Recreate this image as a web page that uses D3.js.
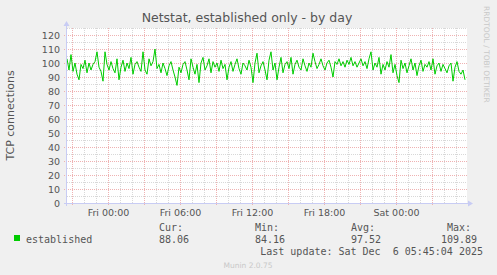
<!DOCTYPE html>
<html>
<head>
<meta charset="utf-8">
<script src="https://cdn.jsdelivr.net/npm/d3@7"></script>
<style>
    body { margin: 0; background: #f0f0f0; }
    .tick text { font-family: "DejaVu Sans", sans-serif; font-size: 9.5px; fill: #555; }
    .mono { font-family: "DejaVu Sans Mono", monospace; font-size: 10px; fill: #555; }
</style>
</head>
<body>
<div id="chart"></div>
<script>
    // 10 minute samples starting Thu Dec 4 20:35
    const established = [
        103, 95, 106, 94, 100, 92, 88, 99, 96, 102,
        93, 100, 95, 99, 101, 108, 97, 94, 87, 108,
        99, 95, 101, 96, 93, 103, 88, 97, 102, 94,
        100, 96, 104, 92, 99, 101, 97, 94, 108, 95,
        92, 103, 98, 101, 110, 96, 99, 93, 100, 96,
        91, 98, 101, 95, 90, 84, 97, 93, 99, 101,
        95, 88, 103, 97, 92, 99, 86, 100, 104, 95,
        98, 103, 93, 101, 97, 100, 94, 102, 96, 99,
        88, 97, 101, 94, 99, 103, 96, 92, 100, 98,
        95, 102, 97, 86, 100, 107, 93, 98, 101, 95,
        88, 102, 108, 95, 100, 88, 97, 104, 93, 99,
        101, 96, 104, 92, 99, 102, 97, 95, 103, 98,
        94, 100, 97, 107, 101, 96, 99, 103, 98, 95,
        100, 102, 97, 90, 101, 99, 103, 98, 101, 97,
        102, 99, 104, 98, 101, 97, 100, 103, 98, 101,
        96, 103, 108, 95, 100, 97, 104, 92, 99, 95,
        101, 97, 106, 93, 99, 91, 86, 102, 96, 100,
        93, 98, 103, 95, 100, 91, 98, 102, 94, 99,
        97, 101, 95, 103, 92, 98, 100, 94, 99, 96,
        93, 98, 100, 87, 97, 101, 94, 92, 95, 88
    ];
    const yTicks = [0, 10, 20, 30, 40, 50, 60, 70, 80, 90, 100, 110, 120];
    const statNames = ["Cur:", "Min:", "Avg:", "Max:"];
    const statValues = ["88.06", "84.16", "97.52", "109.89"];

    const W = 497, H = 275;
    let margin = {top: 28, left: 67},
        width = 400,
        height = 175;

    const start = new Date(2025, 11, 4, 20, 35),
        end = new Date(2025, 11, 6, 5, 55);
    const data = established.map((v, i) => ({t: d3.timeMinute.offset(start, i * 10), v: v}));

    let svg = d3.select("#chart")
        .append("svg")
        .attr("width", W)
        .attr("height", H)
        .style("display", "block");

    svg.append("rect").attr("width", W).attr("height", H).attr("fill", "#f0f0f0");

    let g = svg.append("g")
        .attr("transform", `translate(${margin.left}, ${margin.top})`);

    let x = d3.scaleTime().domain([start, end]).range([0, width]);
    let y = d3.scaleLinear().domain([0, 125]).range([height, 0]);

    g.append("rect").attr("width", width).attr("height", height).attr("fill", "#fff");

    // minor grid
    g.selectAll(".vmin")
        .data(x.ticks(d3.timeHour.every(1)))
        .join("line")
        .attr("x1", d => Math.round(x(d)) + 0.5).attr("x2", d => Math.round(x(d)) + 0.5)
        .attr("y1", 0).attr("y2", height)
        .attr("stroke", "#d8d8d8").attr("stroke-dasharray", "1,1");

    g.selectAll(".hmin")
        .data(d3.range(5, 126, 10))
        .join("line")
        .attr("x1", 0).attr("x2", width)
        .attr("y1", d => Math.round(y(d)) + 0.5).attr("y2", d => Math.round(y(d)) + 0.5)
        .attr("stroke", "#d8d8d8").attr("stroke-dasharray", "1,1");

    // major grid
    g.selectAll(".vmaj")
        .data(x.ticks(d3.timeHour.every(3)))
        .join("line")
        .attr("x1", d => Math.round(x(d)) + 0.5).attr("x2", d => Math.round(x(d)) + 0.5)
        .attr("y1", 0).attr("y2", height + 3)
        .attr("stroke", "#efb2b2").attr("stroke-dasharray", "1,1");

    g.selectAll(".hmaj")
        .data(yTicks.slice(1))
        .join("line")
        .attr("x1", -3).attr("x2", width)
        .attr("y1", d => Math.round(y(d)) + 0.5).attr("y2", d => Math.round(y(d)) + 0.5)
        .attr("stroke", "#efb2b2").attr("stroke-dasharray", "1,1");

    // axes
    g.append("g")
        .attr("transform", `translate(0, ${height})`)
        .call(d3.axisBottom(x).ticks(d3.timeHour.every(6)).tickSize(0).tickPadding(6)
            .tickFormat(d3.timeFormat("%a %H:%M")))
        .call(a => a.select(".domain").remove());

    g.append("g")
        .call(d3.axisLeft(y).tickValues(yTicks).tickSize(0).tickPadding(7))
        .call(a => a.select(".domain").remove());

    // the line
    g.append("path")
        .datum(data)
        .attr("fill", "none")
        .attr("stroke", "#00cc00")
        .attr("stroke-width", 1)
        .attr("d", d3.line().x(d => x(d.t)).y(d => y(d.v)));

    // axis lines with arrows
    g.append("line").attr("x1", -0.5).attr("x2", -0.5).attr("y1", height + 3).attr("y2", -4)
        .attr("stroke", "#c8ccf4");
    g.append("path").attr("d", `M-3.5,-2 L2.5,-2 L-0.5,-7 Z`).attr("fill", "#c8ccf4");
    g.append("line").attr("x1", -3).attr("x2", width + 3).attr("y1", height + 0.5).attr("y2", height + 0.5)
        .attr("stroke", "#c8ccf4");
    g.append("path").attr("d", `M${width + 1},${height - 2.5} L${width + 1},${height + 3.5} L${width + 6},${height + 0.5} Z`)
        .attr("fill", "#c8ccf4");

    // title and labels
    svg.append("text")
        .attr("x", 247).attr("y", 22)
        .attr("text-anchor", "middle")
        .style("font-family", "DejaVu Sans, sans-serif").style("font-size", "12.5px")
        .attr("fill", "#555")
        .text("Netstat, established only - by day");

    svg.append("text")
        .attr("transform", `translate(14, ${margin.top + height / 2}) rotate(-90)`)
        .attr("text-anchor", "middle")
        .style("font-family", "DejaVu Sans, sans-serif").style("font-size", "11px")
        .attr("fill", "#555")
        .text("TCP connections");

    svg.append("text")
        .attr("transform", `translate(484, 6) rotate(90)`)
        .style("font-family", "DejaVu Sans, sans-serif").style("font-size", "7.5px")
        .attr("fill", "#c8c8c8")
        .text("RRDTOOL / TOBI OETIKER");

    // legend
    svg.append("rect").attr("x", 14).attr("y", 235).attr("width", 6).attr("height", 6)
        .attr("fill", "#00cc00");
    svg.append("text").attr("class", "mono").attr("x", 26).attr("y", 243).text("established");

    const statX = [159, 255, 351, 447];
    svg.selectAll(".statName")
        .data(statNames)
        .join("text")
        .attr("class", "mono")
        .attr("x", (d, i) => statX[i]).attr("y", 231)
        .text(d => d);
    svg.selectAll(".statVal")
        .data(statValues)
        .join("text")
        .attr("class", "mono")
        .attr("x", (d, i) => i == 3 ? 441 : statX[i]).attr("y", 243)
        .text(d => d);

    svg.append("text").attr("class", "mono")
        .attr("x", 483).attr("y", 255)
        .attr("text-anchor", "end")
        .style("white-space", "pre")
        .text("Last update: Sat Dec  6 05:45:04 2025");

    svg.append("text")
        .attr("x", 248).attr("y", 268)
        .attr("text-anchor", "middle")
        .style("font-family", "DejaVu Sans, sans-serif").style("font-size", "7.5px")
        .attr("fill", "#c8c8c8")
        .text("Munin 2.0.75");
</script>
</body>
</html>
